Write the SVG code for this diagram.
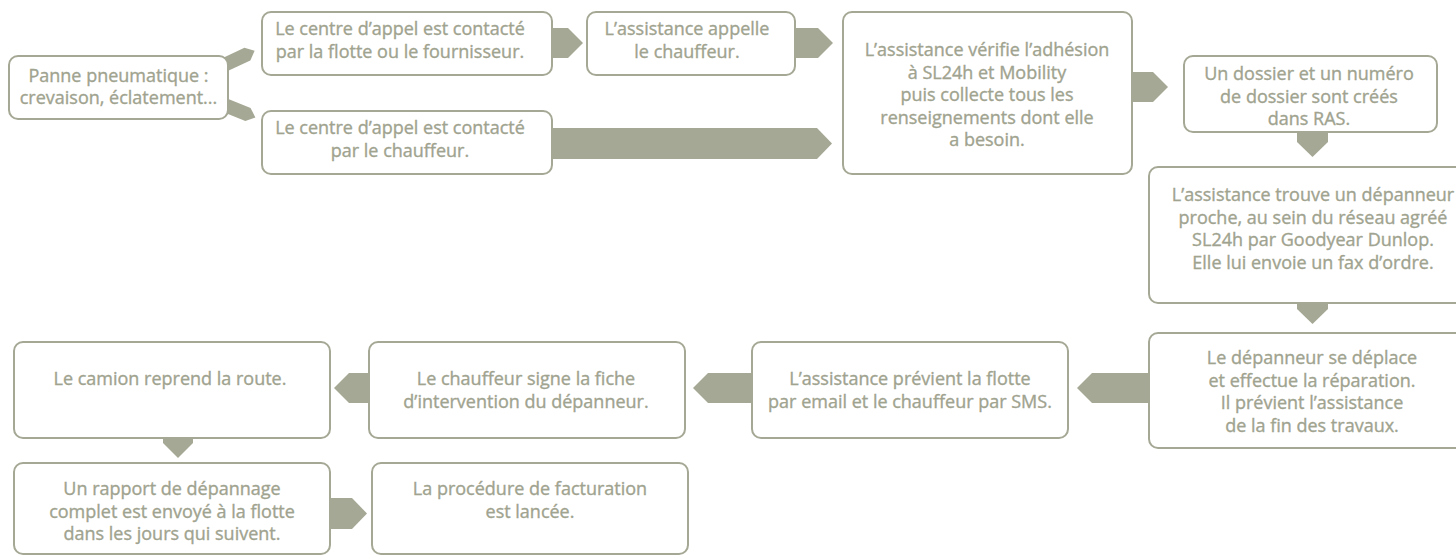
<svg xmlns="http://www.w3.org/2000/svg" width="1456" height="558" viewBox="0 0 1456 558">
<style>
.box{fill:#ffffff;stroke:#a5a894;stroke-width:2}
.arr{fill:#a5a894}
text{font-family:"Open Sans","Liberation Sans",sans-serif;font-size:18px;fill:#a0a38f;stroke:#a0a38f;stroke-width:0.35;text-anchor:middle}
</style>
<rect width="1456" height="558" fill="#ffffff"/>
<g id="connectors">
<polygon class="arr" transform="translate(222,66) rotate(-25)" points="0,-7 28,-7 36,0 28,7 0,7"/>
<polygon class="arr" transform="translate(222,104) rotate(22)" points="0,-7 28,-7 36,0 28,7 0,7"/>
<polygon class="arr" points="552,28 568,28 583,43 568,58 552,58"/>
<polygon class="arr" points="795,28 818,28 833,43 818,58 795,58"/>
<polygon class="arr" points="552,128 817,128 832,143.5 817,159 552,159"/>
<polygon class="arr" points="1132,72 1153,72 1168,87 1153,102 1132,102"/>
<polygon class="arr" points="1297,132 1328,132 1328,142 1312.5,157 1297,142"/>
<polygon class="arr" points="1297,303 1328,303 1328,309 1312.5,324 1297,309"/>
<polygon class="arr" points="1150,373 1092,373 1077,388 1092,403 1150,403"/>
<polygon class="arr" points="752,373 708,373 693,388 708,403 752,403"/>
<polygon class="arr" points="369,373 349,373 334,388 349,403 369,403"/>
<polygon class="arr" points="163,438 193,438 193,443 178,458 163,443"/>
<polygon class="arr" points="330,498 352,498 367,513.5 352,529 330,529"/>
</g>
<g id="n1"><rect class="box" x="9" y="56" width="219" height="63" rx="9"/>
<text x="118.5" y="82">Panne pneumatique :</text><text x="118.5" y="104">crevaison, éclatement...</text></g>
<g id="n2"><rect class="box" x="262" y="12" width="290" height="63" rx="9"/>
<text x="400" y="35">Le centre d’appel est contacté</text><text x="400" y="57.5">par la flotte ou le fournisseur.</text></g>
<g id="n3"><rect class="box" x="587" y="12" width="208" height="63" rx="9"/>
<text x="687" y="35">L’assistance appelle</text><text x="687" y="57.5">le chauffeur.</text></g>
<g id="n4"><rect class="box" x="262" y="111" width="290" height="63" rx="9"/>
<text x="400" y="134">Le centre d’appel est contacté</text><text x="400" y="156.5">par le chauffeur.</text></g>
<g id="n5"><rect class="box" x="843" y="12" width="289" height="162" rx="9"/>
<text x="987" y="56">L’assistance vérifie l’adhésion</text>
<text x="987" y="78.5">à SL24h et Mobility</text>
<text x="987" y="101">puis collecte tous les</text>
<text x="987" y="123.5">renseignements dont elle</text>
<text x="987" y="146">a besoin.</text></g>
<g id="n6"><rect class="box" x="1184" y="56" width="253" height="76" rx="9"/>
<text x="1309" y="80">Un dossier et un numéro</text>
<text x="1309" y="102.5">de dossier sont créés</text>
<text x="1309" y="125">dans RAS.</text></g>
<g id="n7"><rect class="box" x="1149" y="167" width="326" height="136" rx="9"/>
<text x="1313" y="201">L’assistance trouve un dépanneur</text>
<text x="1313" y="223.5">proche, au sein du réseau agréé</text>
<text x="1313" y="246">SL24h par Goodyear Dunlop.</text>
<text x="1313" y="268.5">Elle lui envoie un fax d’ordre.</text></g>
<g id="n8"><rect class="box" x="1149" y="333" width="326" height="115" rx="9"/>
<text x="1312" y="364">Le dépanneur se déplace</text>
<text x="1312" y="386.5">et effectue la réparation.</text>
<text x="1312" y="409">Il prévient l’assistance</text>
<text x="1312" y="431.5">de la fin des travaux.</text></g>
<g id="n9"><rect class="box" x="752" y="342" width="316" height="96" rx="9"/>
<text x="910" y="385">L’assistance prévient la flotte</text>
<text x="910" y="407.5">par email et le chauffeur par SMS.</text></g>
<g id="n10"><rect class="box" x="369" y="342" width="316" height="96" rx="9"/>
<text x="526" y="385">Le chauffeur signe la fiche</text>
<text x="526" y="407.5">d’intervention du dépanneur.</text></g>
<g id="n11"><rect class="box" x="14" y="342" width="316" height="96" rx="9"/>
<text x="170" y="385">Le camion reprend la route.</text></g>
<g id="n12"><rect class="box" x="14" y="463" width="316" height="91" rx="9"/>
<text x="172" y="495">Un rapport de dépannage</text>
<text x="172" y="517.5">complet est envoyé à la flotte</text>
<text x="172" y="540">dans les jours qui suivent.</text></g>
<g id="n13"><rect class="box" x="372" y="463" width="316" height="91" rx="9"/>
<text x="530" y="495">La procédure de facturation</text>
<text x="530" y="517.5">est lancée.</text></g>
</svg>
